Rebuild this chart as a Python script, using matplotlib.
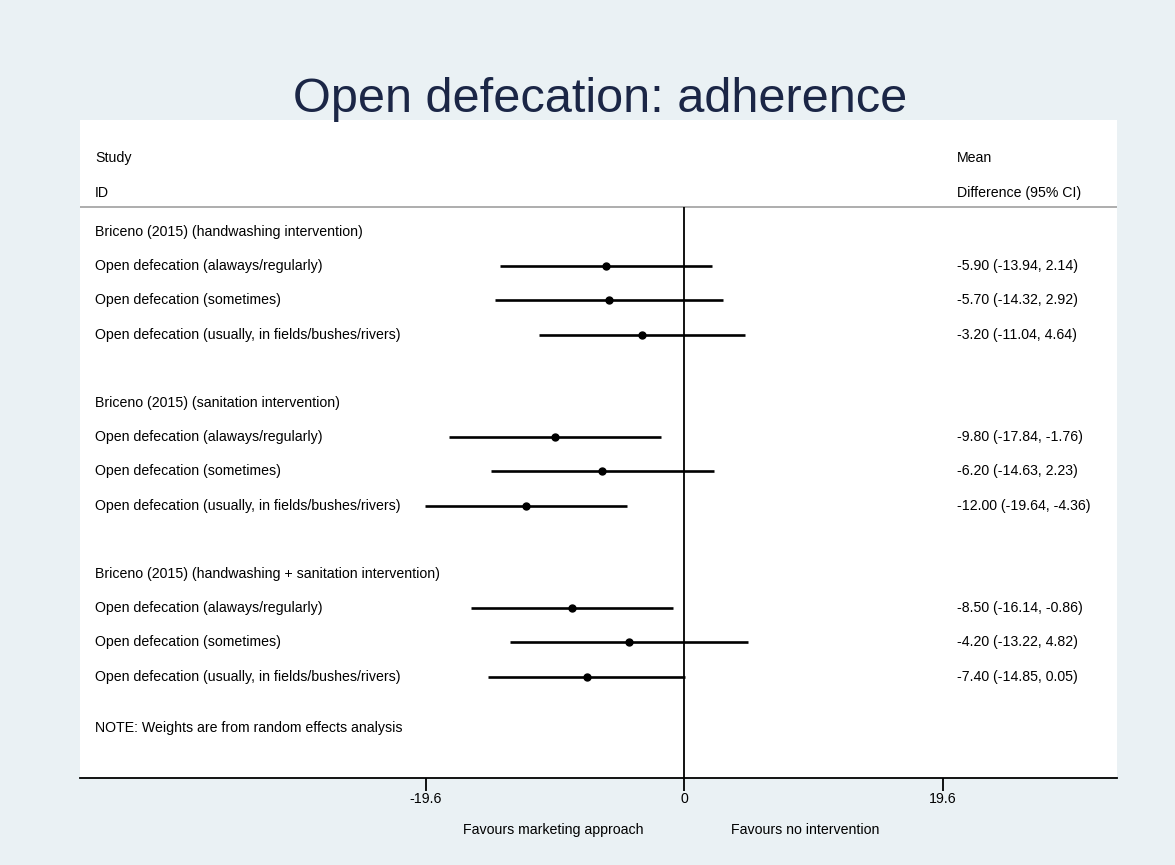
import matplotlib.pyplot as plt
from matplotlib import transforms

plt.rcParams["font.family"] = ["Liberation Sans", "DejaVu Sans"]

# data
groups = ["Briceno (2015) (handwashing intervention)",
          "Briceno (2015) (sanitation intervention)",
          "Briceno (2015) (handwashing + sanitation intervention)"]
outcomes = ["Open defecation (alaways/regularly)",
            "Open defecation (sometimes)",
            "Open defecation (usually, in fields/bushes/rivers)"]
est = [-5.90, -5.70, -3.20, -9.80, -6.20, -12.00, -8.50, -4.20, -7.40]
lo = [-13.94, -14.32, -11.04, -17.84, -14.63, -19.64, -16.14, -13.22, -14.85]
hi = [2.14, 2.92, 4.64, -1.76, 2.23, -4.36, -0.86, 4.82, 0.05]
xticks = [-19.6, 0, 19.6]

bg = "#eaf1f4"
fig = plt.figure(figsize=(11.75, 8.65), dpi=100, facecolor=bg)
ax = fig.add_axes([80 / 1175, 1 - 778 / 865, (1117 - 80) / 1175, (778 - 120) / 865])
ax.set_facecolor("white")

fig.text(0.511, 1 - 99 / 865, "Open defecation: adherence", ha="center", va="center",
         fontsize=35, color="#1b2646")

ax.set_xlim(-45.8, 32.8)
ybot, ytop = 15.96, -3.27
ax.set_ylim(ybot, ytop)

trans = transforms.blended_transform_factory(ax.transAxes, ax.transData)
fs = 10.2
xl, xr = 0.0145, 0.8457

# header
ax.text(xl, -2.16, "Study", transform=trans, va="center", fontsize=fs)
ax.text(xl, -1.14, "ID", transform=trans, va="center", fontsize=fs)
ax.text(xr, -2.16, "Mean", transform=trans, va="center", fontsize=fs)
ax.text(xr, -1.14, "Difference (95% CI)", transform=trans, va="center", fontsize=fs)
ax.axhline(-0.73, color="#a0a0a0", lw=1.2)

# rows
k = 0
for g, name in enumerate(groups):
    base = g * 5
    ax.text(xl, base, name, transform=trans, va="center", fontsize=fs)
    for j, oc in enumerate(outcomes):
        y = base + 1 + j
        ax.text(xl, y, oc, transform=trans, va="center", fontsize=fs)
        ax.plot([lo[k], hi[k]], [y, y], color="black", lw=1.9, solid_capstyle="butt")
        ax.plot(est[k], y, "o", color="black", ms=5)
        ax.text(xr, y, f"{est[k]:.2f} ({lo[k]:.2f}, {hi[k]:.2f})", transform=trans,
                va="center", fontsize=fs)
        k += 1

ax.text(xl, 14.5, "NOTE: Weights are from random effects analysis", transform=trans,
        va="center", fontsize=fs)

ax.vlines(0, -0.73, ybot, color="black", lw=1.3)

for s in ["top", "left", "right"]:
    ax.spines[s].set_visible(False)
ax.spines["bottom"].set_linewidth(1.3)
ax.set_yticks([])
ax.set_xticks(xticks)
ax.set_xticklabels(["-19.6", "0", "19.6"], fontsize=fs)
ax.tick_params(axis="x", length=9, width=1.3, pad=1)

tb = transforms.blended_transform_factory(ax.transData, fig.transFigure)
fig.text(-9.9, 1 - 830 / 865, "Favours marketing approach", transform=tb, ha="center",
         va="center", fontsize=fs)
fig.text(9.2, 1 - 830 / 865, "Favours no intervention", transform=tb, ha="center",
         va="center", fontsize=fs)

fig.savefig("out.png", dpi=100, facecolor=bg)
